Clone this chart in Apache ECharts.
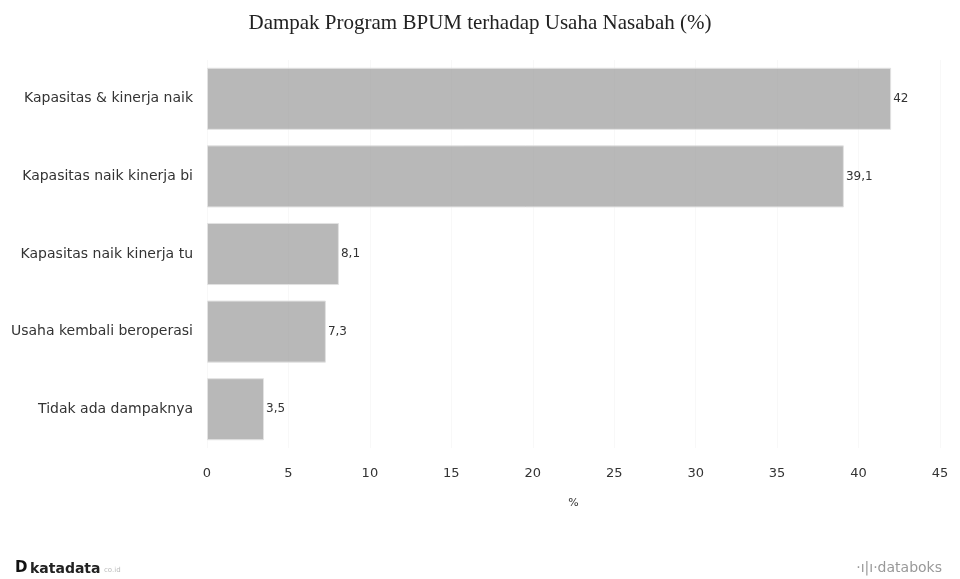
<!DOCTYPE html>
<html>
<head>
<meta charset="utf-8">
<style>
  html, body { margin: 0; padding: 0; background: #fff; }
  #chart { width: 960px; height: 579px; }
</style>
<script src="https://cdn.jsdelivr.net/npm/echarts@6/dist/echarts.min.js"></script>
</head>
<body>
<div id="chart"></div>
<script>
// data (top to bottom)
const categories = [
  'Kapasitas & kinerja naik',
  'Kapasitas naik kinerja bi',
  'Kapasitas naik kinerja tu',
  'Usaha kembali beroperasi',
  'Tidak ada dampaknya'
]
const values = [42, 39.1, 8.1, 7.3, 3.5]

const chart = echarts.init(document.getElementById('chart'))
chart.setOption({
  animation: false,
  title: {
    text: 'Dampak Program BPUM terhadap Usaha Nasabah (%)',
    left: 'center',
    top: 8,
    textStyle: {
      fontFamily: 'Liberation Serif',
      fontWeight: 'normal',
      fontSize: 21,
      color: '#222'
    }
  },
  grid: {
    left: 207,
    right: 20,
    top: 60,
    bottom: 131
  },
  xAxis: {
    type: 'value',
    min: 0,
    max: 45,
    interval: 5,
    name: '%',
    nameLocation: 'middle',
    nameGap: 50,
    nameTextStyle: { fontFamily: 'DejaVu Sans', fontSize: 11, color: '#333' },
    axisLine: { show: false },
    axisTick: { show: false },
    axisLabel: {
      fontFamily: 'DejaVu Sans',
      fontSize: 13,
      color: '#333',
      margin: 19
    },
    splitLine: { lineStyle: { color: '#f8f8f8' } }
  },
  yAxis: {
    type: 'category',
    inverse: true,
    data: categories,
    axisLine: { show: false },
    axisTick: { show: false },
    axisLabel: {
      fontFamily: 'DejaVu Sans',
      fontSize: 14,
      color: '#333',
      margin: 14
    }
  },
  series: [{
    type: 'bar',
    data: values,
    barCategoryGap: '20%',
    itemStyle: {
      color: 'rgba(150,150,150,0.68)',
      borderColor: '#e2e2e2',
      borderWidth: 1
    },
    label: {
      show: true,
      position: 'right',
      distance: 2,
      fontFamily: 'DejaVu Sans',
      fontSize: 12,
      color: '#333',
      formatter: p => String(p.value).replace('.', ',')
    }
  }],
  graphic: [
    {
      type: 'text',
      left: 15,
      top: 561,
      style: { text: 'D', font: 'bold 15px "DejaVu Sans"', fill: '#111' }
    },
    {
      type: 'text',
      left: 30,
      top: 562,
      style: { text: 'katadata', font: 'bold 14px "DejaVu Sans"', fill: '#222' }
    },
    {
      type: 'text',
      left: 104,
      top: 567,
      style: { text: 'co.id', font: '7px "DejaVu Sans"', fill: '#bbb' }
    },
    {
      type: 'text',
      right: 18,
      top: 561,
      style: { text: '·ı|ı·databoks', font: '14px "DejaVu Sans"', fill: '#999' }
    }
  ]
})
</script>
</body>
</html>
